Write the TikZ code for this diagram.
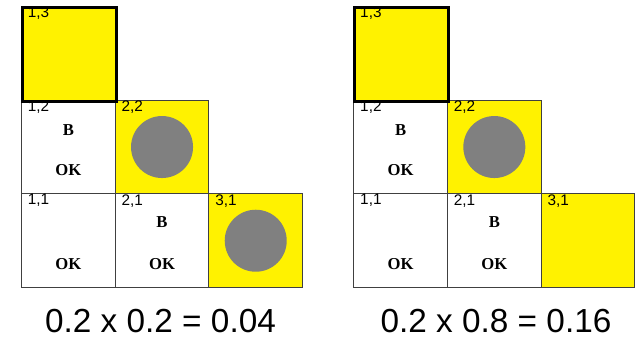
\documentclass[tikz,border=0pt]{standalone}
\usepackage{fontspec}
\setmainfont{Liberation Serif}
\newfontfamily\helv{Liberation Sans}
\colorlet{roomfill}{yellow}
\colorlet{pitfill}{black!50}

\begin{document}
\begin{tikzpicture}[x=0.75pt,y=-0.75pt,
        cell/.style={draw=black!75, line width=0.7pt, minimum size=70.3pt, inner sep=0pt, anchor=north west},
        start/.style={cell, draw=black, line width=2.2pt, fill=roomfill},
        pit/.style={circle, fill=pitfill, minimum size=46.5pt, inner sep=0pt},
        idx/.style={font=\helv\fontsize{11.5}{12}\selectfont, inner sep=0.5pt, anchor=north west, xshift=4.5pt},
        cue/.style={font=\bfseries\fontsize{12.5}{13}\selectfont, inner sep=0pt},
        prob/.style={font=\helv\fontsize{25}{28}\selectfont, inner sep=0pt}]
    \useasboundingbox (0,0) rectangle (636,338);

    \node (L12) [cell] at (21,99.7) {};
    \node (L22) [cell, fill=roomfill] at (114.7,99.7) {};
    \node (L11) [cell] at (21,193.4) {};
    \node (L21) [cell] at (114.7,193.4) {};
    \node (L31) [cell, fill=roomfill] at (208.4,193.4) {};
    \node (L13) [start] at (21,6) {};

    \node (R12) [cell] at (353.3,99.7) {};
    \node (R22) [cell, fill=roomfill] at (447,99.7) {};
    \node (R11) [cell] at (353.3,193.4) {};
    \node (R21) [cell] at (447,193.4) {};
    \node (R31) [cell, fill=roomfill] at (540.7,193.4) {};
    \node (R13) [start] at (353.3,6) {};

    \node (L22pit) [pit] at (L22.center) {};
    \node (L31pit) [pit] at (L31.center) {};
    \node (R22pit) [pit] at (R22.center) {};

    \node (L13i) [idx] at (L13.north west) {1,3};
    \node (L12i) [idx] at (L12.north west) {1,2};
    \node (L22i) [idx] at (L22.north west) {2,2};
    \node (L11i) [idx] at (L11.north west) {1,1};
    \node (L21i) [idx] at (L21.north west) {2,1};
    \node (L31i) [idx] at (L31.north west) {3,1};
    \node (R13i) [idx] at (R13.north west) {1,3};
    \node (R12i) [idx] at (R12.north west) {1,2};
    \node (R22i) [idx] at (R22.north west) {2,2};
    \node (R11i) [idx] at (R11.north west) {1,1};
    \node (R21i) [idx] at (R21.north west) {2,1};
    \node (R31i) [idx] at (R31.north west) {3,1};

    \node (L12b) [cue] at ([yshift=13pt]L12.center) {B};
    \node (L12ok) [cue] at ([yshift=-17.5pt]L12.center) {OK};
    \node (L21b) [cue] at ([yshift=14pt]L21.center) {B};
    \node (L21ok) [cue] at ([yshift=-17.5pt]L21.center) {OK};
    \node (L11ok) [cue] at ([yshift=-17.5pt]L11.center) {OK};
    \node (R12b) [cue] at ([yshift=13pt]R12.center) {B};
    \node (R12ok) [cue] at ([yshift=-17.5pt]R12.center) {OK};
    \node (R21b) [cue] at ([yshift=14pt]R21.center) {B};
    \node (R21ok) [cue] at ([yshift=-17.5pt]R21.center) {OK};
    \node (R11ok) [cue] at ([yshift=-17.5pt]R11.center) {OK};

    \node (Lprob) [prob] at (160.5,321) {0.2 x 0.2 = 0.04};
    \node (Rprob) [prob] at (496,321) {0.2 x 0.8 = 0.16};
\end{tikzpicture}
\end{document}
